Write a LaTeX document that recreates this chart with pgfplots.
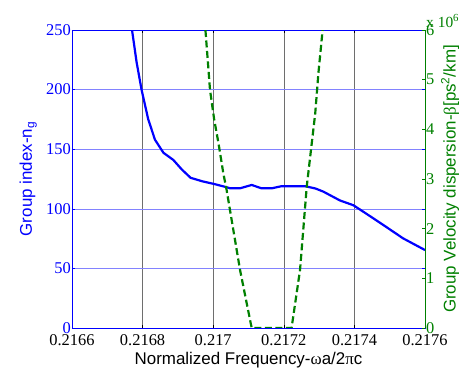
\documentclass[border=0pt]{standalone}
\usepackage{pgfplots}
\pgfplotsset{compat=1.18}
\usepackage{fontspec}
\setmainfont{Liberation Sans}
\newfontfamily\serif{Liberation Serif}
\definecolor{mblue}{RGB}{0,0,255}
\definecolor{mgreen}{RGB}{0,128,0}
\definecolor{gridblue}{RGB}{130,130,255}
\definecolor{gridgray}{RGB}{110,110,110}

\pgfplotstableread{
x y
0.216770 250
0.216783 223
0.216797 200
0.216816 175
0.216835 158
0.216859 147
0.216887 141
0.216911 133
0.216936 126
0.216970 123
0.217000 121
0.217033 118.5
0.217048 117.2
0.217076 117.2
0.217109 120
0.217137 117.2
0.217166 117.2
0.217194 119
0.217260 119
0.217290 117
0.217312 114.4
0.217340 110
0.217359 107
0.217397 103
0.217425 97.6
0.217482 86.4
0.217538 75.2
0.217600 65.4
}\ngdata

\pgfplotstableread{
x y
0.216978 6.0
0.216991 4.79
0.217003 4.19
0.217015 3.72
0.217029 3.10
0.217038 2.78
0.217076 1.17
0.217109 0
0.217222 0
0.217246 1.17
0.217265 2.85
0.217289 4.32
0.217298 5.13
0.217310 6.0
}\betadata

\begin{document}
\begin{tikzpicture}
\path[use as bounding box] (-72bp,-41bp) rectangle (387bp,328bp);
\begin{axis}[
  at={(0,0)}, anchor=south west,
  scale only axis, width=353bp, height=298bp,
  xmin=0.2166, xmax=0.2176, ymin=0, ymax=250,
  xtick={0.2166,0.2168,0.2170,0.2172,0.2174,0.2176},
  xticklabels={0.2166,0.2168,0.217,0.2172,0.2174,0.2176},
  ytick={0,50,100,150,200,250},
  scaled x ticks=false, scaled y ticks=false,
  tick align=inside, major tick length=3bp,
  ytick pos=both, xtick pos=both,
  x axis line style={black, line width=0.8bp},
  y axis line style={mblue, line width=0.8bp},
  xtick style={black, line width=0.5bp},
  ytick style={mblue, line width=0.5bp},
  xmajorgrids, ymajorgrids,
  major x grid style={gridgray, line width=0.5bp},
  major y grid style={gridblue, line width=0.5bp},
  /pgf/number format/assume math mode=true,
  xticklabel style={font=\serif\fontsize{16.5}{16.5}\selectfont, black, inner sep=1bp, yshift=-5bp},
  yticklabel style={font=\serif\fontsize{16.5}{16.5}\selectfont, mblue, inner sep=1bp},
  xlabel={Normalized Frequency-{\serif ω}a/2{\serif π}c},
  xlabel style={font=\fontsize{17}{17}\selectfont, black, at={(axis description cs:0.5,0)}, anchor=base, yshift=-36bp},
  ylabel={Group index-n\textsubscript{g}},
  ylabel style={font=\fontsize{17}{17}\selectfont, mblue, at={(axis description cs:-0.1240,0.5)}, anchor=center},
  clip mode=individual,
]
\addplot[mblue, line width=2.2bp, line join=round] table[x=x,y=y] {\ngdata};
\end{axis}
\begin{axis}[
  at={(0,0)}, anchor=south west,
  scale only axis, width=353bp, height=298bp,
  xmin=0.2166, xmax=0.2176, ymin=0, ymax=6,
  axis x line=none, axis y line*=right,
  ytick={0,1,2,3,4,5,6},
  scaled y ticks=false,
  tick align=inside, major tick length=3bp,
  y axis line style={mgreen, line width=0.8bp, -},
  ytick style={mgreen, line width=0.5bp},
  /pgf/number format/assume math mode=true,
  yticklabel style={font=\serif\fontsize{16.5}{16.5}\selectfont, mgreen, inner sep=1bp},
  ylabel={Group Velocity dispersion-{\serif β}[ps\textsuperscript{2}/km]},
  ylabel style={font=\fontsize{17}{17}\selectfont, mgreen, at={(axis description cs:1.0715,0.5)}, anchor=center},
  clip mode=individual,
]
\addplot[mgreen, line width=2.2bp, dash pattern=on 7bp off 3.5bp] table[x=x,y=y] {\betadata};
\node[anchor=base west, text=mgreen, font=\serif\fontsize{15.5}{15.5}\selectfont, inner sep=0pt] at (rel axis cs:1,1) [yshift=3bp, xshift=1bp] {x 10\textsuperscript{6}};
\end{axis}
\end{tikzpicture}
\end{document}
